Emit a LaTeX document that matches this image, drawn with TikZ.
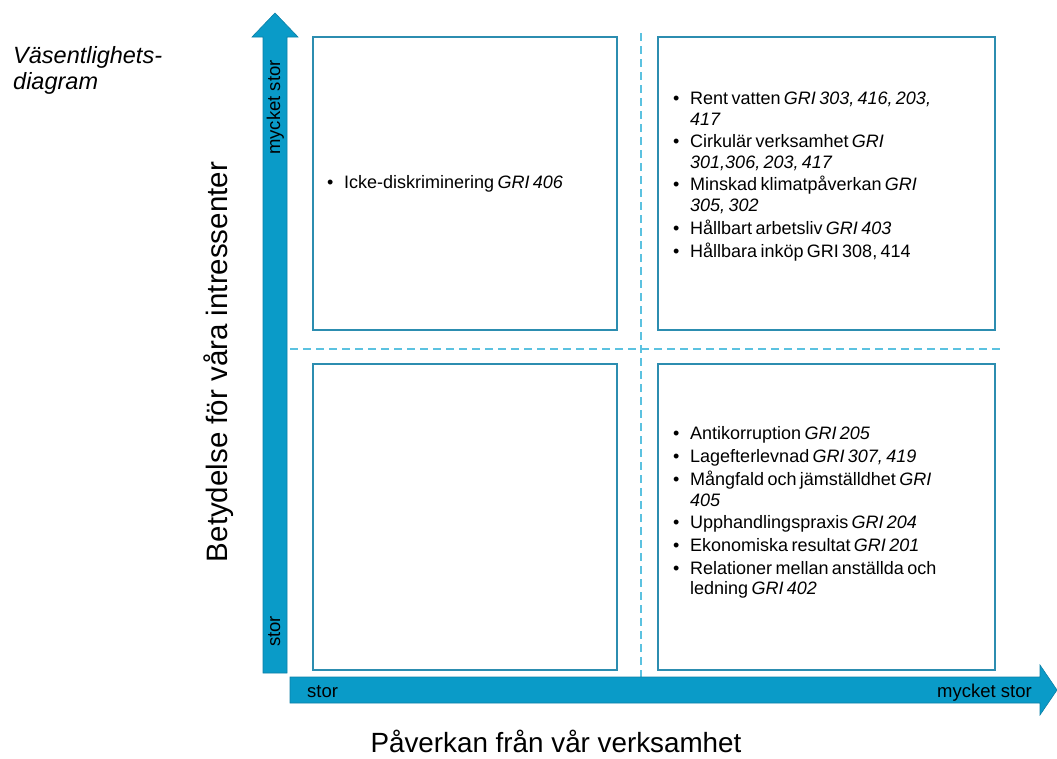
\documentclass[tikz,border=0pt]{standalone}
\usepackage{fontspec}
\setmainfont{Liberation Sans}
\definecolor{arrowblue}{HTML}{0A9BC8}
\definecolor{arrowedge}{HTML}{0C7FA6}
\definecolor{boxblue}{HTML}{2C8DB0}
\definecolor{dashblue}{HTML}{5BC2E0}
\newcommand\bitem[1]{\par\noindent\hangindent=17pt\hangafter=1\makebox[17pt][l]{\textbullet}\strut#1\par}
\newcommand\listfont{\fontsize{18}{20.6}\selectfont\setlength\parskip{2pt}}
\tikzset{
  quad/.style={draw=boxblue, line width=1.5pt},
  guide/.style={draw=dashblue, line width=2pt, dash pattern=on 8pt off 5pt},
  axisarrow/.style={fill=arrowblue, draw=arrowedge, line width=0.6pt},
  listtext/.style={anchor=north west, inner sep=0pt, text width=300pt, align=left},
  axlabel/.style={inner sep=0pt, font=\fontsize{18.5}{20}\selectfont}
}
\begin{document}
\begin{tikzpicture}[x=1pt,y=-1pt]
\useasboundingbox (0,0) rectangle (1057,758);
% guides
\draw[guide] (641,33) -- (641,682);
\draw[guide] (290,349) -- (1000,349);
% quadrants
\draw[quad] (313,37) rectangle (617,330);
\draw[quad] (658,37) rectangle (995,330);
\draw[quad] (313,364) rectangle (617,670);
\draw[quad] (658,364) rectangle (995,670);
% axes
\draw[axisarrow] (263,673) -- (263,37) -- (252,37) -- (275,13) -- (298,37) -- (287,37) -- (287,673) -- cycle;
\draw[axisarrow] (290,677) -- (1040,677) -- (1040,665) -- (1057,690) -- (1040,715) -- (1040,703) -- (290,703) -- cycle;
% axis labels
\node[axlabel, rotate=90, anchor=base east] (ytop) at (280,60) {mycket stor};
\node[axlabel, rotate=90, anchor=base west] (ybot) at (280,647) {stor};
\node[axlabel, anchor=base west] (xleft) at (307,697) {stor};
\node[axlabel, anchor=base east] (xright) at (1032,697) {mycket stor};
% titles
\node[inner sep=0pt, anchor=north west, text width=200pt, align=left] (title) at (13,44.8)
  {\fontsize{23.5}{26}\selectfont\itshape\strut Väsentlighets-\newline diagram};
\node[inner sep=0pt, font=\fontsize{29.5}{32}\selectfont, rotate=90, anchor=base] (ylabel) at (227,362) {Betydelse för våra intressenter};
\node[inner sep=0pt, font=\fontsize{27.8}{32}\selectfont, anchor=base] (xlabel) at (556,752) {Påverkan från vår verksamhet};
% quadrant texts
\node[listtext] (tl) at (327,166) {\listfont
  \bitem{Icke-diskriminering \textit{GRI 406}}};
\node[listtext] (tr) at (673,81.6) {\listfont
  \bitem{Rent vatten \textit{GRI 303, 416, 203,}\newline\textit{417}}
  \bitem{Cirkulär verksamhet \textit{GRI}\newline\textit{301,306, 203, 417}}
  \bitem{Minskad klimatpåverkan \textit{GRI}\newline\textit{305, 302}}
  \bitem{Hållbart arbetsliv \textit{GRI 403}}
  \bitem{Hållbara inköp GRI 308, 414}};
\node[listtext] (br) at (673,416.6) {\listfont
  \bitem{Antikorruption \textit{GRI 205}}
  \bitem{Lagefterlevnad \textit{GRI 307, 419}}
  \bitem{Mångfald och jämställdhet \textit{GRI}\newline\textit{405}}
  \bitem{Upphandlingspraxis \textit{GRI 204}}
  \bitem{Ekonomiska resultat \textit{GRI 201}}
  \bitem{Relationer mellan anställda och\newline ledning \textit{GRI 402}}};
\end{tikzpicture}
\end{document}
